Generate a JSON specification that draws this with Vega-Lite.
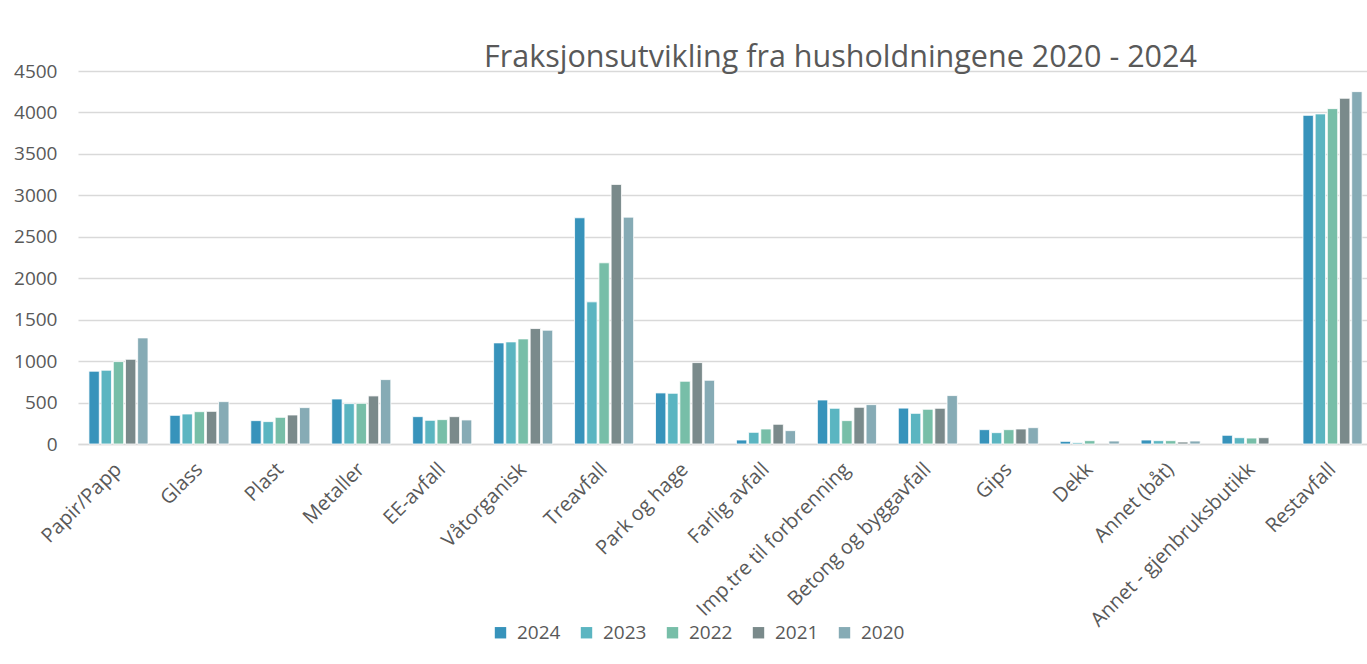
{
  "$schema": "https://vega.github.io/schema/vega-lite/v6.json",
  "width": 1295,
  "height": 373,
  "autosize": "none",
  "padding": {"left": 78, "top": 71, "right": 0, "bottom": 220},
  "background": "white",
  "title": {
    "text": "Fraksjonsutvikling fra husholdningene 2020 - 2024",
    "font": "Open Sans",
    "fontSize": 30.5,
    "fontWeight": "normal",
    "color": "#595959",
    "anchor": "middle",
    "baseline": "alphabetic",
    "dx": 115,
    "offset": -35
  },
  "data": {
    "values": [
      {"kategori": "Papir/Papp", "år": "2024", "verdi": 878},
      {"kategori": "Papir/Papp", "år": "2023", "verdi": 890},
      {"kategori": "Papir/Papp", "år": "2022", "verdi": 994},
      {"kategori": "Papir/Papp", "år": "2021", "verdi": 1022},
      {"kategori": "Papir/Papp", "år": "2020", "verdi": 1280},
      {"kategori": "Glass", "år": "2024", "verdi": 346},
      {"kategori": "Glass", "år": "2023", "verdi": 362},
      {"kategori": "Glass", "år": "2022", "verdi": 390},
      {"kategori": "Glass", "år": "2021", "verdi": 394},
      {"kategori": "Glass", "år": "2020", "verdi": 511},
      {"kategori": "Plast", "år": "2024", "verdi": 282},
      {"kategori": "Plast", "år": "2023", "verdi": 270},
      {"kategori": "Plast", "år": "2022", "verdi": 322},
      {"kategori": "Plast", "år": "2021", "verdi": 350},
      {"kategori": "Plast", "år": "2020", "verdi": 439},
      {"kategori": "Metaller", "år": "2024", "verdi": 543},
      {"kategori": "Metaller", "år": "2023", "verdi": 487},
      {"kategori": "Metaller", "år": "2022", "verdi": 491},
      {"kategori": "Metaller", "år": "2021", "verdi": 580},
      {"kategori": "Metaller", "år": "2020", "verdi": 777},
      {"kategori": "EE-avfall", "år": "2024", "verdi": 330},
      {"kategori": "EE-avfall", "år": "2023", "verdi": 286},
      {"kategori": "EE-avfall", "år": "2022", "verdi": 294},
      {"kategori": "EE-avfall", "år": "2021", "verdi": 330},
      {"kategori": "EE-avfall", "år": "2020", "verdi": 290},
      {"kategori": "Våtorganisk", "år": "2024", "verdi": 1220},
      {"kategori": "Våtorganisk", "år": "2023", "verdi": 1232},
      {"kategori": "Våtorganisk", "år": "2022", "verdi": 1268},
      {"kategori": "Våtorganisk", "år": "2021", "verdi": 1393},
      {"kategori": "Våtorganisk", "år": "2020", "verdi": 1373},
      {"kategori": "Treavfall", "år": "2024", "verdi": 2729},
      {"kategori": "Treavfall", "år": "2023", "verdi": 1715},
      {"kategori": "Treavfall", "år": "2022", "verdi": 2186},
      {"kategori": "Treavfall", "år": "2021", "verdi": 3132},
      {"kategori": "Treavfall", "år": "2020", "verdi": 2737},
      {"kategori": "Park og hage", "år": "2024", "verdi": 616},
      {"kategori": "Park og hage", "år": "2023", "verdi": 612},
      {"kategori": "Park og hage", "år": "2022", "verdi": 757},
      {"kategori": "Park og hage", "år": "2021", "verdi": 982},
      {"kategori": "Park og hage", "år": "2020", "verdi": 769},
      {"kategori": "Farlig avfall", "år": "2024", "verdi": 48},
      {"kategori": "Farlig avfall", "år": "2023", "verdi": 141},
      {"kategori": "Farlig avfall", "år": "2022", "verdi": 181},
      {"kategori": "Farlig avfall", "år": "2021", "verdi": 238},
      {"kategori": "Farlig avfall", "år": "2020", "verdi": 161},
      {"kategori": "Imp.tre til forbrenning", "år": "2024", "verdi": 531},
      {"kategori": "Imp.tre til forbrenning", "år": "2023", "verdi": 431},
      {"kategori": "Imp.tre til forbrenning", "år": "2022", "verdi": 282},
      {"kategori": "Imp.tre til forbrenning", "år": "2021", "verdi": 443},
      {"kategori": "Imp.tre til forbrenning", "år": "2020", "verdi": 475},
      {"kategori": "Betong og byggavfall", "år": "2024", "verdi": 433},
      {"kategori": "Betong og byggavfall", "år": "2023", "verdi": 370},
      {"kategori": "Betong og byggavfall", "år": "2022", "verdi": 419},
      {"kategori": "Betong og byggavfall", "år": "2021", "verdi": 431},
      {"kategori": "Betong og byggavfall", "år": "2020", "verdi": 584},
      {"kategori": "Gips", "år": "2024", "verdi": 173},
      {"kategori": "Gips", "år": "2023", "verdi": 137},
      {"kategori": "Gips", "år": "2022", "verdi": 173},
      {"kategori": "Gips", "år": "2021", "verdi": 181},
      {"kategori": "Gips", "år": "2020", "verdi": 197},
      {"kategori": "Dekk", "år": "2024", "verdi": 32},
      {"kategori": "Dekk", "år": "2023", "verdi": 16},
      {"kategori": "Dekk", "år": "2022", "verdi": 40},
      {"kategori": "Dekk", "år": "2020", "verdi": 36},
      {"kategori": "Annet (båt)", "år": "2024", "verdi": 48},
      {"kategori": "Annet (båt)", "år": "2023", "verdi": 40},
      {"kategori": "Annet (båt)", "år": "2022", "verdi": 40},
      {"kategori": "Annet (båt)", "år": "2021", "verdi": 24},
      {"kategori": "Annet (båt)", "år": "2020", "verdi": 36},
      {"kategori": "Annet - gjenbruksbutikk", "år": "2024", "verdi": 105},
      {"kategori": "Annet - gjenbruksbutikk", "år": "2023", "verdi": 76},
      {"kategori": "Annet - gjenbruksbutikk", "år": "2022", "verdi": 72},
      {"kategori": "Annet - gjenbruksbutikk", "år": "2021", "verdi": 76},
      {"kategori": "Restavfall", "år": "2024", "verdi": 3965},
      {"kategori": "Restavfall", "år": "2023", "verdi": 3982},
      {"kategori": "Restavfall", "år": "2022", "verdi": 4046},
      {"kategori": "Restavfall", "år": "2021", "verdi": 4171},
      {"kategori": "Restavfall", "år": "2020", "verdi": 4251}
    ]
  },
  "mark": {"type": "bar", "stroke": "white", "strokeWidth": 0.8},
  "encoding": {
    "x": {
      "field": "kategori",
      "type": "nominal",
      "sort": null,
      "scale": {"paddingInner": 0.27, "paddingOuter": 0.135},
      "axis": {
        "title": null,
        "labelAngle": -45,
        "labelAlign": "right",
        "labelBaseline": "middle",
        "labelFont": "Open Sans",
        "labelFontSize": 20,
        "labelColor": "#595959",
        "labelPadding": 22,
        "labelLimit": 400,
        "ticks": false,
        "domainColor": "#D9D9D9",
        "domainWidth": 1.5,
        "grid": false
      }
    },
    "xOffset": {
      "field": "år",
      "type": "nominal",
      "sort": ["2024", "2023", "2022", "2021", "2020"],
      "scale": {"paddingInner": 0.15}
    },
    "y": {
      "field": "verdi",
      "type": "quantitative",
      "scale": {"domain": [0, 4500], "nice": false},
      "axis": {
        "title": null,
        "values": [0, 500, 1000, 1500, 2000, 2500, 3000, 3500, 4000, 4500],
        "format": "d",
        "labelFont": "Open Sans",
        "labelFontSize": 19,
        "labelColor": "#595959",
        "labelPadding": 21,
        "ticks": false,
        "domain": false,
        "gridColor": "#D9D9D9",
        "gridWidth": 1.5
      }
    },
    "color": {
      "field": "år",
      "type": "nominal",
      "scale": {
        "domain": ["2024", "2023", "2022", "2021", "2020"],
        "range": ["#3793BB", "#5BB5C1", "#77BEA8", "#7A8A8B", "#86ABB5"]
      },
      "legend": {
        "title": null,
        "orient": "none",
        "direction": "horizontal",
        "legendX": 413,
        "legendY": 552,
        "symbolType": "square",
        "symbolSize": 130,
        "symbolStrokeWidth": 0,
        "labelFont": "Open Sans",
        "labelFontSize": 19,
        "labelColor": "#595959",
        "columnPadding": 16,
        "labelOffset": 7
      }
    }
  },
  "config": {"view": {"stroke": null}}
}
